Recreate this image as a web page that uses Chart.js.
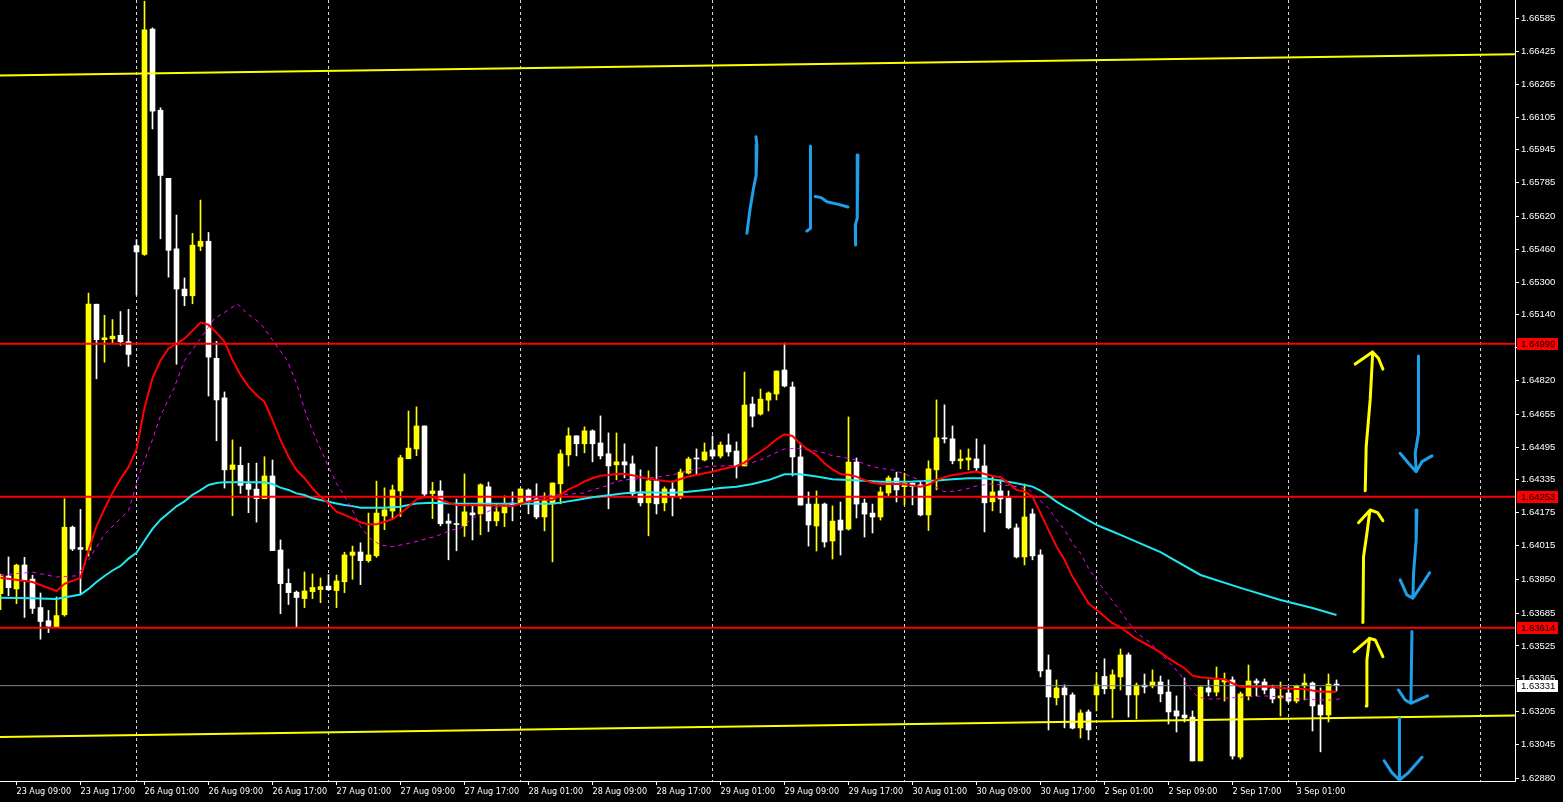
<!DOCTYPE html>
<html>
<head>
    <title>GBP/CHF H1</title>
    <script src="https://cdn.jsdelivr.net/npm/chart.js"></script>
    <style>
        html, body { margin: 0; padding: 0; background: #000; overflow: hidden; }
    </style>
</head>
<body>
    <canvas id="priceChart" width="1563" height="802"></canvas>

    <script>
        // H1 candles, bar index 0 = 23 Aug 07:00
        const opens = [
            1.63780,1.63866,1.63803,1.63920,1.63851,1.63712,1.63648,1.63615,
            1.63677,1.64104,1.64005,1.63992,1.65192,1.65019,1.65023,1.65040,
            1.65009,1.65478,1.65435,1.66534,1.66138,1.65806,1.65462,1.65266,
            1.65233,1.65474,1.65499,1.64928,1.64735,1.64386,1.64406,1.64315,
            1.64290,1.64243,1.64354,1.63993,1.63830,1.63787,1.63756,1.63790,
            1.63800,1.63817,1.63795,1.63838,1.63967,1.63983,1.63941,1.63965,
            1.64159,1.64183,1.64281,1.64438,1.64486,1.64598,1.64268,1.64281,
            1.64134,1.64120,1.64111,1.64174,1.64169,1.64301,1.64135,1.64174,
            1.64221,1.64218,1.64286,1.64242,1.64154,1.64223,1.64316,1.64457,
            1.64550,1.64511,1.64574,1.64515,1.64462,1.64408,1.64423,1.64413,
            1.64267,1.64223,1.64330,1.64223,1.64290,1.64256,1.64368,1.64442,
            1.64432,1.64481,1.64451,1.64505,1.64476,1.64403,1.64705,1.64656,
            1.64724,1.64754,1.64871,1.64788,1.64447,1.64217,1.64110,1.64217,
            1.64037,1.64139,1.64095,1.64422,1.64222,1.64173,1.64154,1.64271,
            1.64344,1.64302,1.64319,1.64311,1.64164,1.64384,1.64540,1.64535,
            1.64428,1.64432,1.64437,1.64403,1.64228,1.64281,1.64247,1.64101,
            1.63959,1.64169,1.63969,1.63408,1.63272,1.63320,1.63286,1.63125,
            1.63203,1.63286,1.63376,1.63316,1.63374,1.63481,1.63286,1.63334,
            1.63330,1.63349,1.63300,1.63208,1.63188,1.63178,1.62964,1.63320,
            1.63300,1.63349,1.63359,1.62983,1.63281,1.63354,1.63349,1.63315,
            1.63271,1.63295,1.63256,1.63330,1.63344,1.63237,1.63188,1.63339
        ];
        const highs = [
            1.63876,1.63959,1.63924,1.63957,1.63870,1.63783,1.63698,1.63764,
            1.64243,1.64110,1.64191,1.65246,1.65192,1.65138,1.65117,1.65156,
            1.65167,1.65507,1.66670,1.66540,1.66150,1.65806,1.65627,1.65320,
            1.65538,1.65700,1.65542,1.65011,1.64764,1.64530,1.64495,1.64416,
            1.64417,1.64448,1.64432,1.64042,1.63900,1.63793,1.63886,1.63876,
            1.63856,1.63873,1.63871,1.63982,1.64012,1.64028,1.64173,1.64329,
            1.64296,1.64310,1.64455,1.64671,1.64691,1.64598,1.64323,1.64331,
            1.64169,1.64241,1.64364,1.64208,1.64316,1.64324,1.64221,1.64257,
            1.64276,1.64291,1.64291,1.64316,1.64272,1.64320,1.64481,1.64589,
            1.64550,1.64594,1.64579,1.64647,1.64564,1.64564,1.64511,1.64452,
            1.64384,1.64379,1.64496,1.64301,1.64329,1.64388,1.64446,1.64486,
            1.64515,1.64549,1.64520,1.64559,1.64520,1.64861,1.64739,1.64778,
            1.64764,1.64866,1.65003,1.64812,1.64515,1.64276,1.64281,1.64222,
            1.64208,1.64227,1.64642,1.64442,1.64242,1.64217,1.64300,1.64354,
            1.64373,1.64368,1.64319,1.64327,1.64428,1.64725,1.64701,1.64598,
            1.64481,1.64486,1.64535,1.64506,1.64355,1.64335,1.64281,1.64120,
            1.64315,1.64193,1.63994,1.63481,1.63359,1.63335,1.63296,1.63213,
            1.63213,1.63394,1.63462,1.63408,1.63510,1.63491,1.63344,1.63388,
            1.63408,1.63378,1.63359,1.63281,1.63369,1.63208,1.63325,1.63359,
            1.63422,1.63393,1.63374,1.63300,1.63432,1.63364,1.63364,1.63334,
            1.63349,1.63325,1.63334,1.63388,1.63349,1.63320,1.63388,1.63359
        ];
        const lows = [
            1.63702,1.63770,1.63731,1.63664,1.63683,1.63558,1.63590,1.63615,
            1.63670,1.63990,1.63776,1.63963,1.64828,1.64909,1.64999,1.64992,
            1.64889,1.65237,1.65430,1.66047,1.65511,1.65324,1.64899,1.65185,
            1.65194,1.65453,1.64744,1.64526,1.64295,1.64160,1.64269,1.64175,
            1.64129,1.64243,1.63990,1.63682,1.63727,1.63616,1.63712,1.63756,
            1.63736,1.63795,1.63712,1.63785,1.63850,1.63824,1.63933,1.63957,
            1.64092,1.64147,1.64156,1.64438,1.64453,1.64248,1.64146,1.64111,
            1.63945,1.63989,1.64059,1.64042,1.64067,1.64083,1.64111,1.64107,
            1.64135,1.64213,1.64169,1.64145,1.64086,1.63935,1.64218,1.64403,
            1.64452,1.64467,1.64423,1.64437,1.64194,1.64335,1.64345,1.64257,
            1.64208,1.64062,1.64169,1.64184,1.64159,1.64242,1.64364,1.64364,
            1.64427,1.64437,1.64442,1.64451,1.64344,1.64403,1.64593,1.64651,
            1.64671,1.64725,1.64788,1.64354,1.64212,1.64012,1.63988,1.64007,
            1.63949,1.63968,1.64090,1.64149,1.64056,1.64076,1.64139,1.64256,
            1.64227,1.64213,1.64213,1.64159,1.64088,1.64286,1.64515,1.64413,
            1.64389,1.64384,1.64379,1.64081,1.64184,1.64174,1.64096,1.63954,
            1.63920,1.63945,1.63374,1.63115,1.63237,1.63125,1.63120,1.63076,
            1.63067,1.63208,1.63291,1.63174,1.63310,1.63178,1.63169,1.63295,
            1.63320,1.63252,1.63144,1.63105,1.63154,1.62964,1.62964,1.63281,
            1.63281,1.63256,1.62973,1.62973,1.63261,1.63281,1.63291,1.63247,
            1.63183,1.63247,1.63247,1.63261,1.63110,1.63008,1.63154,1.63305
        ];
        const closes = [
            1.63866,1.63809,1.63919,1.63847,1.63708,1.63644,1.63621,1.63673,
            1.64104,1.63998,1.63996,1.65192,1.65019,1.65028,1.65036,1.65009,
            1.64947,1.65447,1.66530,1.66134,1.65820,1.65455,1.65266,1.65233,
            1.65480,1.65499,1.64934,1.64725,1.64384,1.64408,1.64308,1.64289,
            1.64243,1.64354,1.63990,1.63829,1.63785,1.63761,1.63793,1.63810,
            1.63814,1.63799,1.63842,1.63969,1.63983,1.63941,1.63969,1.64173,
            1.64189,1.64286,1.64443,1.64490,1.64598,1.64266,1.64281,1.64121,
            1.64123,1.64117,1.64179,1.64164,1.64311,1.64135,1.64179,1.64213,
            1.64213,1.64291,1.64233,1.64154,1.64233,1.64320,1.64462,1.64550,
            1.64511,1.64574,1.64511,1.64452,1.64403,1.64423,1.64408,1.64267,
            1.64223,1.64330,1.64218,1.64291,1.64256,1.64373,1.64437,1.64437,
            1.64471,1.64451,1.64505,1.64471,1.64403,1.64700,1.64646,1.64729,
            1.64759,1.64866,1.64793,1.64447,1.64212,1.64115,1.64217,1.64032,
            1.64134,1.64090,1.64422,1.64217,1.64168,1.64154,1.64276,1.64344,
            1.64286,1.64319,1.64302,1.64164,1.64389,1.64540,1.64535,1.64428,
            1.64437,1.64442,1.64394,1.64223,1.64276,1.64242,1.64101,1.63959,
            1.64154,1.63964,1.63403,1.63276,1.63320,1.63286,1.63124,1.63198,
            1.63115,1.63335,1.63316,1.63384,1.63481,1.63286,1.63334,1.63325,
            1.63349,1.63291,1.63203,1.63183,1.63174,1.62964,1.63325,1.63300,
            1.63359,1.63359,1.62988,1.63291,1.63354,1.63344,1.63310,1.63266,
            1.63281,1.63256,1.63330,1.63344,1.63232,1.63188,1.63339,1.63331
        ];

        // moving averages, [bar, price] pairs
        const fastMA = [
            [0,1.63857],[4,1.63837],[7,1.63793],[8,1.63828],[10,1.63857],[11,1.63992],[12,1.64108],[13,1.64194],
            [14,1.64272],[15,1.64339],[16,1.64397],[17,1.64484],[18,1.64687],[19,1.64831],[20,1.64918],[21,1.64976],
            [22,1.64999],[23,1.65024],[24,1.65063],[25,1.65102],[26,1.65092],[27,1.65053],[28,1.65009],[29,1.64920],
            [30,1.64847],[31,1.64790],[32,1.64749],[33,1.64716],[34,1.64627],[35,1.64530],[36,1.64448],[37,1.64383],
            [38,1.64343],[39,1.64294],[40,1.64253],[41,1.64221],[42,1.64180],[43,1.64164],[44,1.64147],[45,1.64128],
            [46,1.64118],[47,1.64118],[48,1.64131],[49,1.64143],[50,1.64172],[51,1.64204],[52,1.64240],[53,1.64250],
            [54,1.64250],[55,1.64237],[56,1.64224],[57,1.64213],[60,1.64211],[64,1.64208],[66,1.64230],[68,1.64240],
            [69,1.64237],[70,1.64262],[71,1.64289],[72,1.64306],[73,1.64327],[74,1.64343],[75,1.64355],[76,1.64359],
            [77,1.64364],[78,1.64364],[79,1.64358],[80,1.64348],[81,1.64341],[82,1.64335],[83,1.64330],[84,1.64326],
            [85,1.64339],[86,1.64351],[87,1.64359],[88,1.64367],[89,1.64375],[90,1.64386],[91,1.64394],[92,1.64402],
            [93,1.64419],[94,1.64448],[95,1.64472],[96,1.64500],[97,1.64533],[98,1.64557],[99,1.64549],[100,1.64510],
            [101,1.64481],[102,1.64456],[103,1.64416],[104,1.64386],[105,1.64364],[106,1.64360],[107,1.64351],[108,1.64334],
            [109,1.64321],[110,1.64315],[112,1.64315],[113,1.64314],[114,1.64307],[115,1.64302],[116,1.64311],[117,1.64335],
            [118,1.64348],[119,1.64359],[120,1.64364],[121,1.64371],[122,1.64376],[123,1.64364],[124,1.64354],[125,1.64348],
            [126,1.64319],[127,1.64286],[128,1.64278],[129,1.64254],[130,1.64172],[131,1.64091],[132,1.64010],[133,1.63945],
            [134,1.63863],[135,1.63798],[136,1.63733],[137,1.63701],[138,1.63668],[139,1.63636],[140,1.63616],[141,1.63587],
            [142,1.63559],[143,1.63538],[144,1.63517],[145,1.63492],[146,1.63465],[147,1.63440],[148,1.63416],[149,1.63380],
            [150,1.63372],[152,1.63365],[153,1.63362],[154,1.63343],[155,1.63326],[159,1.63326],[160,1.63320],[162,1.63315],
            [163,1.63315],[164,1.63307],[165,1.63302],[167,1.63302]
        ];
        const slowMA = [
            [0,1.63760],[4,1.63758],[7,1.63754],[8,1.63762],[9,1.63768],[10,1.63776],[11,1.63803],[12,1.63837],
            [13,1.63866],[14,1.63893],[15,1.63915],[16,1.63951],[17,1.63979],[18,1.64038],[19,1.64096],[20,1.64141],
            [21,1.64173],[22,1.64206],[23,1.64230],[24,1.64262],[25,1.64285],[26,1.64310],[27,1.64320],[28,1.64324],
            [33,1.64323],[34,1.64315],[35,1.64297],[36,1.64286],[37,1.64269],[38,1.64261],[39,1.64245],[40,1.64237],
            [41,1.64228],[42,1.64220],[43,1.64212],[44,1.64207],[45,1.64199],[48,1.64199],[50,1.64204],[51,1.64212],
            [52,1.64220],[54,1.64224],[56,1.64220],[69,1.64218],[70,1.64224],[72,1.64237],[74,1.64250],[76,1.64260],
            [78,1.64270],[80,1.64275],[84,1.64272],[86,1.64277],[88,1.64286],[90,1.64295],[92,1.64302],[94,1.64315],
            [96,1.64334],[98,1.64362],[100,1.64362],[102,1.64351],[104,1.64338],[106,1.64334],[108,1.64331],[110,1.64326],
            [114,1.64327],[117,1.64332],[119,1.64338],[121,1.64343],[123,1.64343],[125,1.64332],[127,1.64319],[129,1.64302],
            [130,1.64283],[131,1.64257],[132,1.64229],[133,1.64205],[134,1.64184],[135,1.64159],[136,1.64137],[137,1.64115],
            [138,1.64099],[139,1.64083],[140,1.64067],[145,1.63983],[150,1.63871],[155,1.63808],[160,1.63749],[164,1.63710],
            [167,1.63676]
        ];
        const shiftedMA = [
            [0,1.63870],[4,1.63885],[7,1.63861],[9.5,1.63867],[11,1.63944],[13,1.64069],[16,1.64185],[17.5,1.64378],
            [19,1.64532],[20,1.64648],[21.7,1.64783],[23,1.64918],[25,1.65024],[26.7,1.65121],[28.7,1.65169],[29.6,1.65195],
            [30.8,1.65147],[32.5,1.65099],[33.7,1.65034],[35.8,1.64920],[37,1.64806],[38.3,1.64643],[39.5,1.64530],[40.8,1.64416],
            [42,1.64318],[43.8,1.64204],[45,1.64107],[46.2,1.64050],[47.5,1.64017],[49,1.64009],[51,1.64025],[52.7,1.64042],
            [54.3,1.64058],[56.4,1.64090],[57.5,1.64099],[59,1.64148],[60.7,1.64176],[62.3,1.64205],[65.2,1.64246],[69,1.64260],
            [72.8,1.64270],[74,1.64286],[75.8,1.64306],[77,1.64327],[78.7,1.64338],[80.4,1.64343],[82,1.64348],[84,1.64360],
            [87.8,1.64396],[89,1.64403],[91,1.64403],[93.3,1.64412],[95,1.64432],[96.5,1.64460],[98,1.64486],[99.5,1.64489],
            [101,1.64481],[102.4,1.64473],[104,1.64453],[105.3,1.64445],[107,1.64432],[108,1.64411],[110,1.64391],[111.5,1.64384],
            [113,1.64364],[114,1.64348],[115.8,1.64322],[117.9,1.64278],[119.5,1.64281],[120.8,1.64291],[122,1.64306],[123.7,1.64315],
            [125.3,1.64311],[127,1.64302],[128.6,1.64286],[129.9,1.64237],[131,1.64197],[132,1.64140],[133,1.64091],[134,1.64026],
            [135,1.63977],[136,1.63904],[137,1.63847],[138.1,1.63790],[139.4,1.63725],[141,1.63640],[142,1.63590],[143.7,1.63541],
            [145,1.63489],[146.2,1.63440],[147.5,1.63383],[148.5,1.63326],[149.6,1.63278],[150.5,1.63268],[151.7,1.63265],[153,1.63269],
            [154.6,1.63274],[156.3,1.63278],[158,1.63281],[159.3,1.63278],[161.4,1.63269],[163,1.63265],[164.7,1.63261],[166.4,1.63261],
            [167.8,1.63269]
        ];

        // horizontal levels and trend lines
        const redLevels = [1.64999, 1.64253, 1.63614];
        const lastPrice = 1.63331;
        const upperTrend = [[-0.06, 1.66308], [189.3, 1.66411]];
        const lowerTrend = [[-0.06, 1.63081], [189.3, 1.63186]];

        // hand drawn marks, [bar, price]; null breaks a stroke
        const blueDrawing = [
            [94.43,1.66009],[94.55,1.65969],[94.46,1.65822],[94.13,1.65758],[93.71,1.65660],[93.30,1.65538], null,
            [101.25,1.65964],[101.25,1.65562],[100.80,1.65549], null,
            [101.84,1.65717],[102.59,1.65712],[103.30,1.65692],[104.75,1.65679],[105.93,1.65666], null,
            [107.18,1.65920],[107.09,1.65611],[106.84,1.65578],[106.88,1.65481], null,
            [177.25,1.64939],[177.25,1.64562],[176.84,1.64465],[176.96,1.64375], null,
            [174.96,1.64465],[176.00,1.64416],[176.96,1.64375],[177.68,1.64424],[178.93,1.64452], null,
            [177.05,1.64188],[176.96,1.64042],[176.63,1.63879],[176.55,1.63758], null,
            [174.96,1.63847],[175.80,1.63774],[176.55,1.63758],[177.80,1.63831],[178.63,1.63882], null,
            [176.43,1.63595],[176.30,1.63245], null,
            [174.75,1.63310],[175.59,1.63261],[176.30,1.63245],[177.46,1.63265],[178.38,1.63281], null,
            [174.87,1.63172],[174.87,1.62871], null,
            [172.96,1.62965],[173.92,1.62907],[174.87,1.62871],[176.00,1.62907],[177.68,1.62982]
        ];
        const yellowDrawing = [
            [170.59,1.64282],[170.71,1.64497],[171.21,1.64725],[171.50,1.64936],[171.50,1.64960], null,
            [169.34,1.64900],[171.50,1.64959],[172.25,1.64928],[172.80,1.64875], null,
            [170.30,1.63639],[170.38,1.63960],[170.80,1.64075],[171.13,1.64172],[171.21,1.64188], null,
            [169.75,1.64126],[171.21,1.64188],[172.13,1.64175],[172.80,1.64136], null,
            [170.71,1.63232],[170.80,1.63457],[171.13,1.63562], null,
            [169.21,1.63497],[171.13,1.63562],[171.84,1.63554],[172.80,1.63473]
        ];

        const priceTicks = [1.66585,1.66425,1.66265,1.66105,1.65945,1.65785,1.65620,1.65460,1.65300,1.65140,1.64980,1.64820,
            1.64655,1.64495,1.64335,1.64175,1.64015,1.63850,1.63685,1.63525,1.63365,1.63205,1.63045,1.62880];
        const timeTickBars = [2,10,18,26,34,42,50,58,66,74,82,90,98,106,114,122,130,138,146,154,162];
        const timeTickLabels = ['23 Aug 09:00','23 Aug 17:00','26 Aug 01:00','26 Aug 09:00','26 Aug 17:00','27 Aug 01:00',
            '27 Aug 09:00','27 Aug 17:00','28 Aug 01:00','28 Aug 09:00','28 Aug 17:00','29 Aug 01:00','29 Aug 09:00',
            '29 Aug 17:00','30 Aug 01:00','30 Aug 09:00','30 Aug 17:00','2 Sep 01:00','2 Sep 09:00','2 Sep 17:00','3 Sep 01:00'];
        const dayStartBars = [17,41,65,89,113,137,161,185];

        const X_MIN = -0.0625, X_MAX = 189.3125;
        const Y_MIN = 1.62866, Y_MAX = 1.66676;
        const BULL = '#ffff00', BEAR = '#ffffff';
        const FONT = "'Liberation Sans Narrow','DejaVu Sans Condensed','Liberation Sans',sans-serif";

        const toPoints = arr => arr.map(p => p ? {x: p[0], y: p[1]} : {x: null, y: null});
        const candleColor = closes.map((c, i) => c > opens[i] ? BULL : BEAR);

        const wicks = lows.map((l, i) => ({x: i, y: [l, highs[i]]}));
        const bodies = opens.map((o, i) => ({x: i, y: [o, closes[i]]}));

        const flatLine = v => [{x: X_MIN, y: v}, {x: X_MAX, y: v}];

        const lineStyle = (color, width, order) => ({
            type: 'line', borderColor: color, borderWidth: width, pointRadius: 0,
            tension: 0, fill: false, order: order, spanGaps: false
        });

        const datasets = [
            Object.assign(lineStyle('#1e9fe8', 3, 0), {data: toPoints(blueDrawing), borderCapStyle: 'round', borderJoinStyle: 'round'}),
            Object.assign(lineStyle('#ffff00', 3, 0), {data: toPoints(yellowDrawing), borderCapStyle: 'round', borderJoinStyle: 'round'}),
            Object.assign(lineStyle('#ff0000', 2, 1), {data: toPoints(fastMA), spanGaps: true}),
            Object.assign(lineStyle('#ff00ff', 1, 1), {data: toPoints(shiftedMA), borderDash: [4, 4], spanGaps: true}),
            Object.assign(lineStyle('#20e8f0', 2, 1), {data: toPoints(slowMA), spanGaps: true}),
            Object.assign(lineStyle('#ffff00', 2, 2), {data: toPoints(upperTrend)}),
            Object.assign(lineStyle('#ffff00', 2, 2), {data: toPoints(lowerTrend)}),
            Object.assign(lineStyle('#778899', 1, 2), {data: flatLine(lastPrice)}),
            ...redLevels.map(v => Object.assign(lineStyle('#ff0000', 2, 2), {data: flatLine(v)})),
            {
                type: 'bar', data: bodies, backgroundColor: candleColor, borderWidth: 0,
                barThickness: 5, minBarLength: 1, grouped: false, order: 3
            },
            {
                type: 'bar', data: wicks, backgroundColor: candleColor, borderWidth: 0,
                barThickness: 1, minBarLength: 1, grouped: false, order: 4
            }
        ];

        const chartExtras = {
            id: 'chartExtras',
            beforeDraw(chart) {
                const ctx = chart.ctx;
                ctx.save();
                ctx.fillStyle = '#000';
                ctx.fillRect(0, 0, chart.width, chart.height);
                ctx.restore();
            },
            afterDraw(chart) {
                const ctx = chart.ctx;
                const y = chart.scales.y;
                const left = chart.chartArea.right + 2;
                const boxes = redLevels.map(v => ({value: v, fill: '#ff0000'}));
                boxes.push({value: lastPrice, fill: '#ffffff'});
                ctx.save();
                ctx.font = "9.5px 'Liberation Sans', sans-serif";
                ctx.textBaseline = 'middle';
                boxes.forEach(b => {
                    const py = Math.round(y.getPixelForValue(b.value));
                    ctx.fillStyle = b.fill;
                    ctx.fillRect(left, py - 6, 41, 12);
                    ctx.fillStyle = '#000';
                    ctx.fillText(b.value.toFixed(5), left + 4, py + 0.5);
                });
                ctx.restore();
            }
        };

        // keep the plot edge to edge: drop the label overhang padding
        const noPadding = scale => {
            scale.paddingLeft = 0; scale.paddingRight = 0;
            scale.paddingTop = 0; scale.paddingBottom = 0;
        };

        const ctx = document.getElementById('priceChart').getContext('2d');
        new Chart(ctx, {
            type: 'bar',
            data: { datasets: datasets },
            plugins: [chartExtras],
            options: {
                responsive: false,
                animation: false,
                layout: { padding: 0 },
                plugins: { legend: { display: false }, tooltip: { enabled: false } },
                scales: {
                    x: {
                        type: 'linear',
                        position: 'bottom',
                        offset: false,
                        min: X_MIN,
                        max: X_MAX,
                        afterBuildTicks: scale => { scale.ticks = timeTickBars.map(v => ({value: v})); },
                        afterFit: scale => { scale.height = 21; noPadding(scale); },
                        ticks: {
                            autoSkip: false, maxRotation: 0, align: 'start', padding: 1,
                            color: '#ffffff', font: { family: FONT, size: 9 },
                            callback: (value, index) => timeTickLabels[index]
                        },
                        grid: { offset: false, drawOnChartArea: false, drawTicks: true, tickLength: 4, color: '#ffffff' },
                        border: { display: true, color: '#ffffff', width: 1 }
                    },
                    days: {
                        type: 'linear',
                        axis: 'x',
                        position: 'top',
                        offset: false,
                        min: X_MIN,
                        max: X_MAX,
                        afterBuildTicks: scale => { scale.ticks = dayStartBars.map(v => ({value: v})); },
                        afterFit: scale => { scale.height = 0; noPadding(scale); },
                        ticks: { display: false },
                        grid: { offset: false, drawOnChartArea: true, drawTicks: false, color: '#d8d8d8', lineWidth: 1 },
                        border: { display: false, dash: [3, 3] }
                    },
                    y: {
                        type: 'linear',
                        position: 'right',
                        min: Y_MIN,
                        max: Y_MAX,
                        afterBuildTicks: scale => { scale.ticks = priceTicks.map(v => ({value: v})); },
                        afterFit: scale => { scale.width = 48; noPadding(scale); },
                        ticks: {
                            padding: 2, color: '#ffffff',
                            font: { family: "'Liberation Sans', sans-serif", size: 9.5 },
                            callback: value => value.toFixed(5)
                        },
                        grid: { drawOnChartArea: false, drawTicks: true, tickLength: 4, color: '#ffffff' },
                        border: { display: true, color: '#ffffff', width: 1 }
                    }
                }
            }
        });
    </script>
</body>
</html>
